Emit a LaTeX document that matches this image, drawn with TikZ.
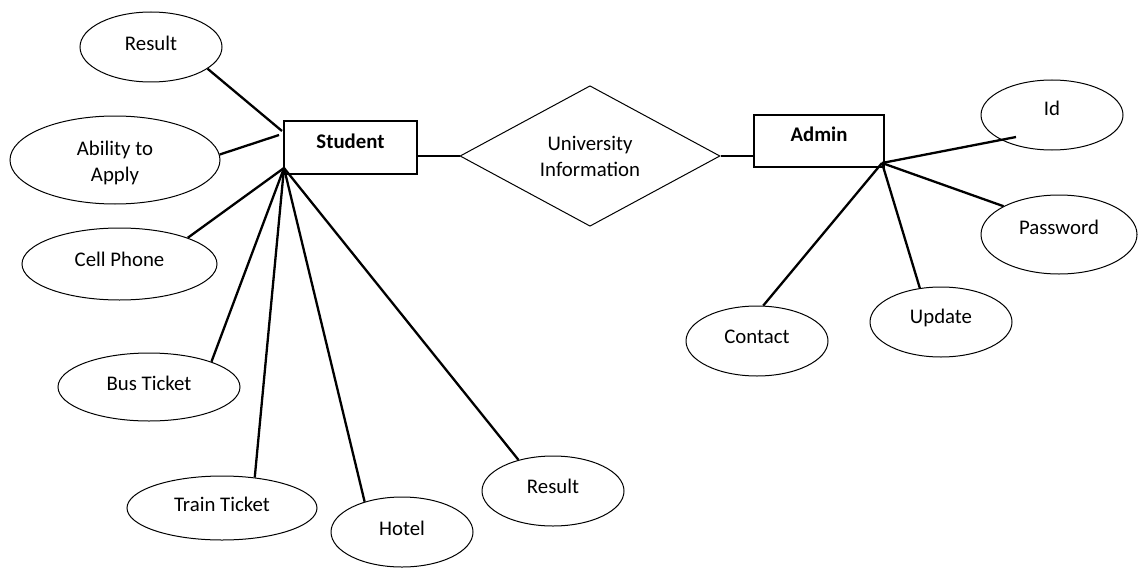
\documentclass[tikz,border=0pt]{standalone}
\usepackage{fontspec}
\setmainfont{Carlito}
\usetikzlibrary{shapes.geometric}
\begin{document}
\begin{tikzpicture}[x=0.5pt,y=-0.5pt,
  font=\fontsize{10.4}{13}\selectfont,
  attr/.style={ellipse,draw,line width=0.5pt,inner sep=0pt,text height=7pt,text depth=5.2pt},
  attrml/.style={ellipse,draw,line width=0.5pt,inner sep=0pt,align=center},
  ent/.style={rectangle,draw,line width=0.65pt,inner sep=0pt,font=\fontsize{10.4}{13}\selectfont\bfseries,text height=7pt,text depth=6pt},
  rel/.style={diamond,draw,line width=0.5pt,inner sep=0pt,align=center},
  link/.style={line width=1.15pt}]
\useasboundingbox (0,0) rectangle (1138,567);
% entities and relationship
\node[ent,minimum width=66.5pt,minimum height=26.5pt] (student) at (350.5,147.5) {Student};
\node[ent,minimum width=65pt,minimum height=26pt,text depth=6.8pt] (admin) at (819,141) {Admin};
\node[rel,minimum width=130pt,minimum height=67.5pt] (dia) at (590,156) {University\\Information};
% student attributes
\node[attr,minimum width=71pt,minimum height=35pt,text depth=3.2pt] (res1) at (151,47) {Result};
\node[attrml,minimum width=105pt,minimum height=44pt] (abil) at (115,160) {\rule{0pt}{3pt}\\[-6pt]Ability to\\Apply};
\node[attr,minimum width=97.5pt,minimum height=36pt,text depth=4.5pt] (cell) at (119.5,264) {Cell Phone};
\node[attr,minimum width=91pt,minimum height=34pt,text depth=4pt] (bus) at (149,387) {Bus Ticket};
\node[attr,minimum width=95pt,minimum height=32pt,text depth=3.2pt] (train) at (222,508) {Train Ticket};
\node[attr,minimum width=71pt,minimum height=35pt,text depth=4pt] (hotel) at (402,532) {Hotel};
\node[attr,minimum width=71pt,minimum height=35pt,text depth=4.5pt] (res2) at (553,491) {Result};
% admin attributes
\node[attr,minimum width=71pt,minimum height=35pt,text depth=7pt] (id) at (1052,115) {Id};
\node[attr,minimum width=78pt,minimum height=39.5pt,text depth=7.5pt] (pass) at (1059,234.5) {Password};
\node[attr,minimum width=71pt,minimum height=35pt,text depth=6pt] (upd) at (941,322) {Update};
\node[attr,minimum width=71pt,minimum height=35pt,text depth=4.5pt] (cont) at (757,341) {Contact};
% hub points
\coordinate (sh) at (284,168);
\coordinate (shA) at (282,131);
\coordinate (shB) at (279,135);
\coordinate (ah) at (882,163);
\coordinate (idend) at (1016,137);
% connectors
\draw[link] (res1.-21) -- (shA);
\draw[link] (abil.3) -- (shB);
\draw[link] (cell.21.5) -- (sh);
\draw[link] (bus.22) -- (sh);
\draw[link] (train.43) -- (sh);
\draw[link] (hotel.141) -- (sh);
\draw[link] (res2.138) -- (sh);
\draw[link] (student.east |- dia.west) -- (dia.west);
\draw[link] (dia.east) -- (dia.east -| admin.west);
\draw[link] (ah) -- (idend);
\draw[link] (ah) -- (pass.153);
\draw[link] (ah) -- (upd.122);
\draw[link] (ah) -- (cont.80);
\end{tikzpicture}
\end{document}
